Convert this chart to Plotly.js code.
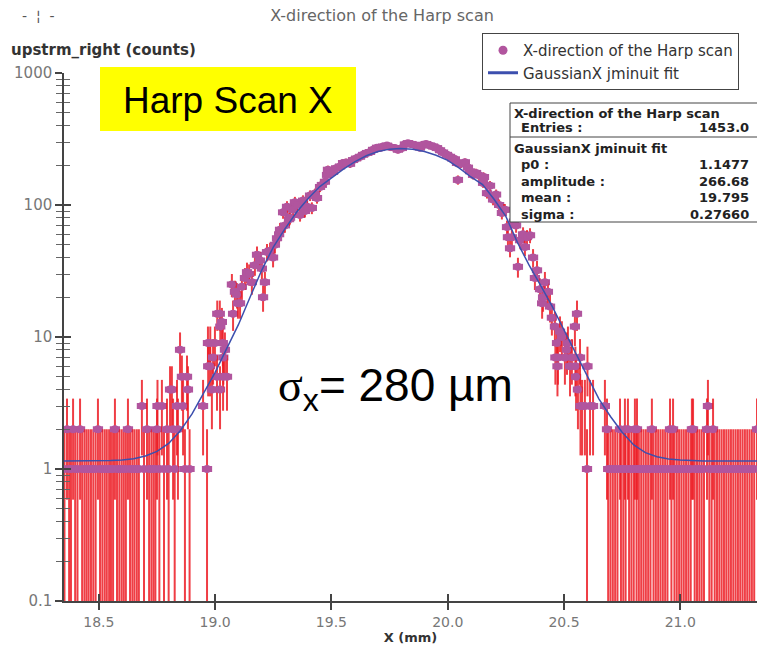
<!DOCTYPE html>
<html><head><meta charset="utf-8">
<script src="https://cdn.plot.ly/plotly-3.0.1.min.js"></script>
<style>html,body{margin:0;padding:0;background:#fff}#chart{width:757px;height:645px}</style>
</head><body><div id="chart"></div>
<script>
// ---- data ----
const xPos = [
18.352,18.363,18.372,18.380,18.389,18.398,18.408,18.419,18.428,18.438,
18.447,18.456,18.466,18.476,18.486,18.496,18.505,18.515,18.525,18.534,
18.544,18.552,18.561,18.569,18.578,18.588,18.598,18.607,18.616,18.625,
18.634,18.644,18.653,18.663,18.672,18.685,18.694,18.707,18.716,18.726,
18.735,18.743,18.750,18.752,18.760,18.771,18.780,18.793,18.800,18.806,
18.814,18.819,18.826,18.836,18.840,18.849,18.857,18.862,18.870,18.879,
18.883,18.890,18.948,18.965,
18.969,18.970,18.978,18.979,18.986,18.991,18.999,19.008,19.009,19.020,
19.021,19.022,19.029,19.033,19.034,19.035,19.042,19.051,19.072,19.077,
19.085,19.094,19.098,19.107,19.115,19.128,19.137,19.146,19.158,19.171,
19.180,19.193,19.201,19.206,19.214,19.223,19.236,19.249,19.257,19.266,
19.275,19.279,19.292,19.300,19.309,19.318,19.322,19.335,19.343,19.352,
19.365,19.378,19.386,19.395,19.408,19.416,19.429,19.438,19.451,19.459,
19.472,19.481,19.485,19.494,19.507,19.520,19.537,19.550,19.563,19.580,
19.593,19.606,19.623,19.636,19.653,19.666,19.679,19.696,19.709,19.722,
19.739,19.752,19.773,19.786,19.803,19.816,19.829,19.842,19.859,19.872,
19.881,19.894,19.907,19.924,19.937,19.954,19.967,19.980,19.997,20.010,
20.019,20.031,20.040,20.044,20.057,20.074,20.087,20.096,20.109,20.122,
20.134,20.152,20.156,20.169,20.182,20.195,20.199,20.208,20.221,20.233,
20.242,20.246,20.255,20.259,20.268,20.276,20.285,20.294,20.302,20.311,
20.324,20.332,20.341,20.354,20.367,20.375,20.384,
20.397,20.406,20.410,20.418,20.431,20.440,20.448,20.461,20.463,20.470,
20.472,20.474,20.483,20.491,20.504,20.513,20.517,20.526,20.534,20.547,
20.549,20.552,20.556,20.560,20.569,20.571,20.578,20.590,20.599,20.601,
20.612,20.625,20.676,
20.685,20.690,20.700,20.710,20.720,20.730,20.741,20.745,20.755,20.762,
20.765,20.775,20.780,20.790,20.800,20.805,20.812,20.814,20.822,20.832,
20.842,20.852,20.862,20.872,20.878,20.885,20.895,20.905,20.915,20.925,
20.935,20.945,20.956,20.962,20.969,20.975,20.985,20.995,21.005,21.015,
21.025,21.035,21.045,21.050,21.055,21.062,21.072,21.082,21.092,21.102,
21.115,21.119,21.125,21.135,21.141,21.148,21.158,21.168,21.178,21.188,
21.198,21.208,21.218,21.228,21.238,21.248,21.258,21.268,21.278,21.288,
21.298,21.308,21.318,21.330
];
const counts = [
1,2,1,1,2,1,1,2,1,1,
1,1,1,1,1,2,1,1,1,1,
1,1,1,2,1,1,1,1,1,2,
1,1,1,1,1,3,1,2,1,1,
1,1,2,3,1,3,1,2,1,4,
4,2,1,3,2,8,5,3,1,5,
4,1,3,1,
9,6,6,9,4,7,9,5,15,15,
4,12,13,9,5,7,8,5,25,15,
22,21,18,18,24,28,31,30,26,35,
42,38,33,20,26,44,45,40,50,56,
60,65,88,70,97,78,80,92,105,100,
84,108,90,97,118,95,122,113,137,142,
150,169,185,175,178,190,196,208,210,205,
219,225,232,240,248,252,262,272,270,278,
282,275,270,262,270,288,294,290,285,280,
272,286,290,282,278,270,260,250,240,232,
225,222,208,155,205,211,192,180,169,175,
168,147,163,123,140,110,115,120,100,87,
92,92,68,57,47,57,75,70,34,54,
60,48,57,59,40,28,32,
23,18,20,26,22,17,14,12,7,9,
6,7,11,10,7,8,9,6,7,12,
6,5,15,4,7,3,3,3,1,6,
3,3,3,
2,1,1,1,1,1,2,1,1,2,
1,2,1,1,1,2,1,2,1,1,
1,1,1,1,2,1,1,1,1,1,
1,1,2,1,2,1,1,1,1,1,
1,1,1,2,2,1,1,1,1,1,
2,3,1,1,2,1,1,1,1,1,
1,1,1,1,1,1,1,1,1,1,
1,1,1,2
];
// fitted curve as drawn in the reference (GaussianX jminuit fit)
const fitX = [18.35,18.45,18.55,18.60,18.65,18.70,18.75,18.80,18.85,18.90,18.95,19.00,19.05,19.10,19.15,19.20,19.25,19.30,19.35,19.40,19.45,19.50,19.55,19.60,19.65,19.70,19.75,19.795,19.85,19.90,19.95,20.00,20.05,20.10,20.15,20.20,20.25,20.30,20.35,20.40,20.45,20.50,20.55,20.60,20.65,20.70,20.75,20.80,20.85,20.90,20.95,21.00,21.10,21.35];
const fitY = [1.148,1.150,1.158,1.171,1.198,1.253,1.360,1.561,1.95,2.6,3.7,5.4,8.2,12.4,20.0,32.0,48.0,66.0,88.0,112.0,138.0,160.0,186.0,212.0,236.0,254.0,265.0,267.8,264.0,254.0,238.0,218.0,190.0,163.0,143.0,110.0,82.0,52.0,35.0,24.5,17.0,11.3,7.5,5.0,3.4,2.5,1.9,1.52,1.33,1.24,1.19,1.168,1.151,1.148];

const seriesName = 'X-direction of the Harp scan';
const fitName = 'GaussianX jminuit fit';
const yTickVals = [0.1, 1, 10, 100, 1000];
const yTickText = ['0.1', '1', '10', '100', '1000'];
const statLabels = ['Entries :', 'p0 :', 'amplitude :', 'mean :', 'sigma :'];
const statValues = ['1453.0', '1.1477', '266.68', '19.795', '0.27660'];

// ---- styling helpers ----
const PURPLE = '#b1559e', RED = 'rgba(236,28,36,0.85)', BLUE = '#3c4fae', AX = '#444';
const L = 64, T = 73, W = 693, H = 528;
const px = v => (v - L) / W;          // pixel -> paper x
const py = v => (T + H - v) / H;      // pixel -> paper y

const errPlus = counts.map(n => Math.sqrt(n));
const errMinus = counts.map(n => Math.min(Math.sqrt(n), n - 0.001));

const minorVals = [];
[0.1, 1, 10, 100].forEach(d => { for (let k = 2; k <= 9; k++) minorVals.push(+(d * k).toPrecision(3)); });

const data = [
  { x: xPos, y: counts, type: 'scatter', mode: 'markers', showlegend: false, name: seriesName,
    marker: { color: PURPLE, size: 8, line: { width: 0 } },
    error_y: { type: 'data', symmetric: false, array: errPlus, arrayminus: errMinus, color: RED, thickness: 2, width: 0 },
    error_x: { type: 'constant', value: 0.022, color: PURPLE, thickness: 6, width: 0 } },
  { x: fitX, y: fitY, type: 'scatter', mode: 'lines', showlegend: false, name: fitName,
    xaxis: 'x2', yaxis: 'y2', line: { color: BLUE, width: 1.5 } },
  { x: [null], y: [null], type: 'scatter', mode: 'markers', name: seriesName,
    marker: { color: PURPLE, size: 9 } },
  { x: [null], y: [null], type: 'scatter', mode: 'lines', name: fitName,
    line: { color: BLUE, width: 3 } }
];

const tickFont = { family: 'DejaVu Sans', size: 15, color: '#777' };
const xr = [18.35, 21.33], yr = [-1, 3];

const layout = {
  width: 757, height: 645,
  margin: { l: L, r: 0, t: T, b: 645 - T - H },
  paper_bgcolor: '#fff', plot_bgcolor: '#fff',
  title: { text: 'X-direction of the Harp scan', x: 382 / 757, xanchor: 'center', y: 1 - 15 / 645, yanchor: 'middle',
           font: { family: 'DejaVu Sans', size: 16, color: '#666' } },
  showlegend: true,
  legend: { x: px(482), y: py(33), xanchor: 'left', yanchor: 'top', bgcolor: '#fff', bordercolor: AX, borderwidth: 1,
            font: { family: 'DejaVu Sans', size: 15, color: '#333' }, tracegroupgap: 0, itemwidth: 30 },
  xaxis: { range: xr, dtick: 0.5, tick0: 0, tickformat: '.1f', ticks: 'outside', ticklen: 7, tickwidth: 1.5, tickcolor: AX,
           showline: true, linecolor: AX, linewidth: 1.5, showgrid: false, zeroline: false,
           tickfont: { family: 'DejaVu Sans', size: 14, color: '#777' },
           title: { text: '<b>X (mm)</b>', standoff: 2, font: { family: 'DejaVu Sans', size: 13, color: '#333' } } },
  yaxis: { type: 'log', range: yr, tickvals: yTickVals, ticktext: yTickText, ticks: 'outside', ticklen: 7, tickwidth: 1.5,
           tickcolor: AX, showline: true, linecolor: AX, linewidth: 1.5, showgrid: false, zeroline: false, tickfont: tickFont,
           minor: { tickvals: minorVals, ticks: 'outside', ticklen: 6, tickcolor: '#666', tickwidth: 1, showgrid: false } },
  xaxis2: { overlaying: 'x', anchor: 'y2', side: 'bottom', range: xr, dtick: 0.5, tick0: 0, ticks: 'inside', ticklen: 7,
            tickwidth: 1.5, tickcolor: AX, showticklabels: false, showgrid: false, zeroline: false, showline: false },
  yaxis2: { overlaying: 'y', anchor: 'x2', side: 'left', type: 'log', range: yr, tickvals: yTickVals, ticks: 'inside',
            ticklen: 7, tickwidth: 1.5, tickcolor: AX, showticklabels: false, showgrid: false, zeroline: false, showline: false,
            minor: { tickvals: minorVals, ticks: 'inside', ticklen: 6, tickcolor: '#666', tickwidth: 1, showgrid: false } },
  shapes: [
    { type: 'rect', xref: 'paper', yref: 'paper', x0: px(100), x1: px(356), y0: py(131), y1: py(67),
      fillcolor: '#ffff00', line: { width: 0 }, layer: 'above' },
    { type: 'rect', xref: 'paper', yref: 'paper', x0: px(510), x1: px(760), y0: py(222), y1: py(103),
      fillcolor: '#fff', line: { color: AX, width: 1 }, layer: 'above' },
    { type: 'line', xref: 'paper', yref: 'paper', x0: px(510), x1: px(760), y0: py(137), y1: py(137),
      line: { color: AX, width: 1 }, layer: 'above' }
  ],
  annotations: [
    { text: '-  ¦  -', xref: 'paper', yref: 'paper', x: px(38), y: py(16), showarrow: false, xanchor: 'center', yanchor: 'middle',
      font: { family: 'DejaVu Sans', size: 14, color: '#555' } },
    { text: '<b>upstrm_right (counts)</b>', xref: 'paper', yref: 'paper', x: px(9), y: py(50), showarrow: false,
      xanchor: 'left', yanchor: 'middle', font: { family: 'DejaVu Sans', size: 15, color: '#333' } },
    { text: 'Harp Scan X', xref: 'paper', yref: 'paper', x: px(228), y: py(100), showarrow: false, xanchor: 'center',
      yanchor: 'middle', font: { family: 'Liberation Sans', size: 37, color: '#000' } },
    { text: '<span style="font-family:Liberation Serif">σ</span><sub>x</sub>= 280 µm', xref: 'paper', yref: 'paper',
      x: px(276), y: py(388), showarrow: false, xanchor: 'left', yanchor: 'middle',
      font: { family: 'Liberation Sans', size: 46, color: '#000' } },
    { text: '<b>' + seriesName + '</b>', xref: 'paper', yref: 'paper', x: px(512), y: py(113), showarrow: false,
      xanchor: 'left', yanchor: 'middle', font: { family: 'DejaVu Sans', size: 13, color: '#222' } },
    { text: '<b>' + fitName + '</b>', xref: 'paper', yref: 'paper', x: px(512), y: py(148), showarrow: false,
      xanchor: 'left', yanchor: 'middle', font: { family: 'DejaVu Sans', size: 13, color: '#222' } }
  ]
};
const rowY = [127, 164, 181, 197, 214];
statLabels.forEach((lab, i) => {
  layout.annotations.push({ text: '<b>' + lab + '</b>', xref: 'paper', yref: 'paper', x: px(519), y: py(rowY[i]),
    showarrow: false, xanchor: 'left', yanchor: 'middle', font: { family: 'DejaVu Sans', size: 13, color: '#222' } });
  layout.annotations.push({ text: '<b>' + statValues[i] + '</b>', xref: 'paper', yref: 'paper', x: px(751), y: py(rowY[i]),
    showarrow: false, xanchor: 'right', yanchor: 'middle', font: { family: 'DejaVu Sans', size: 13, color: '#222' } });
});

Plotly.newPlot('chart', data, layout, { displayModeBar: false, responsive: false });
</script>
</body></html>
